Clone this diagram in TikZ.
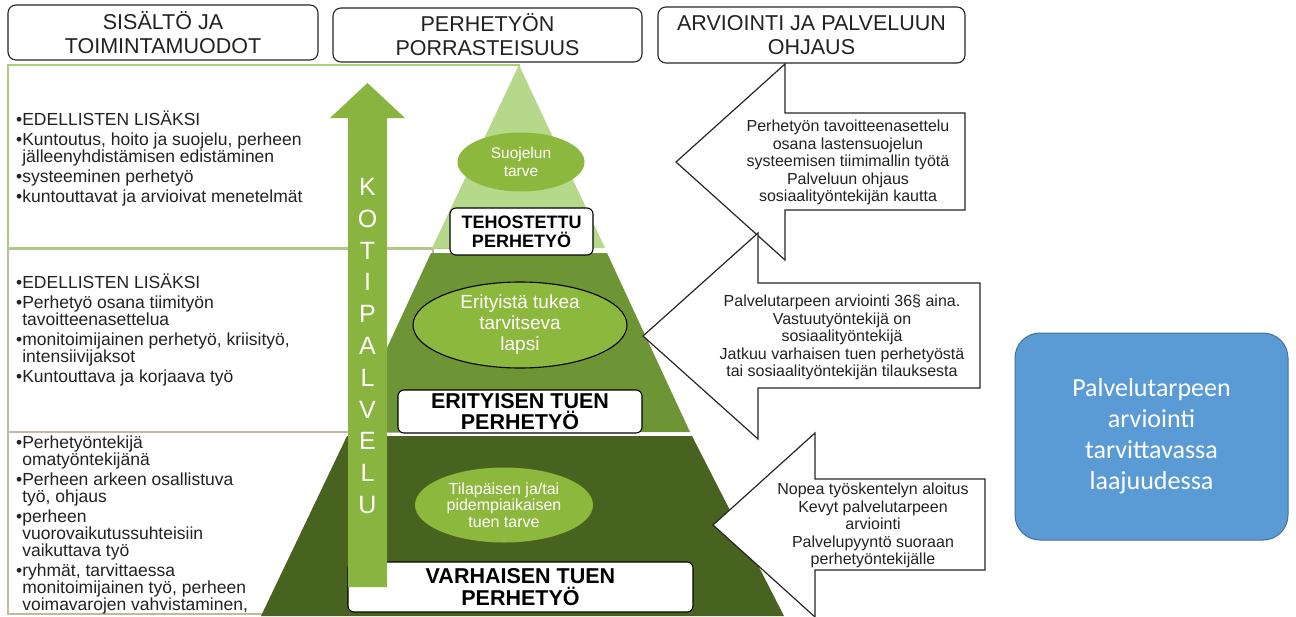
\documentclass[tikz,border=0pt]{standalone}
\usepackage{fontspec}
\setmainfont{Liberation Sans}
\newfontfamily\calfont{Carlito}
\usetikzlibrary{shapes.geometric}
\definecolor{lightg}{HTML}{B5D88A}
\definecolor{midg}{HTML}{6E9535}
\definecolor{darkg}{HTML}{48621F}
\definecolor{ellg}{HTML}{8DB83E}
\definecolor{arrg}{HTML}{8AB440}
\definecolor{rowgreen}{HTML}{A9CF7E}
\definecolor{rowtan}{HTML}{C4B89E}
\definecolor{bluefill}{HTML}{5B9BD5}
\definecolor{blueline}{HTML}{41719C}
\definecolor{txt}{HTML}{222222}
\tikzset{
  hdr/.style={draw=black!85, line width=1.1pt, rounded corners=8pt, fill=white, align=center, text=txt, font=\fontsize{21.5}{24}\selectfont, inner sep=0pt},
  lvl/.style={draw=black, line width=1.1pt, rounded corners=6pt, fill=white, align=center, text=black, inner sep=0pt},
  ell/.style={ellipse, fill=ellg, text=white, align=center, inner sep=0pt},
  blk/.style={draw=black!85, line width=1.2pt, fill=white, line join=miter},
  blktxt/.style={align=center, text=txt, inner sep=0pt, font=\fontsize{16}{17.5}\selectfont},
  rowtxt/.style={align=left, anchor=west, text=txt, inner sep=0pt, font=\fontsize{17.5}{17}\selectfont},
}
\begin{document}
\begin{tikzpicture}[x=1pt,y=-1pt]
\useasboundingbox[fill=white] (0,0) rectangle (1296,616);

% header boxes
\node[hdr, minimum width=310pt, minimum height=55pt] (h1) at (163,32.5) {SISÄLTÖ JA\\TOIMINTAMUODOT};
\node[hdr, minimum width=309pt, minimum height=54pt] (h2) at (487.5,35) {PERHETYÖN\\PORRASTEISUUS};
\node[hdr, minimum width=307pt, minimum height=56pt] (h3) at (811.5,35) {ARVIOINTI JA PALVELUUN\\OHJAUS};

% left panel rows
\draw[rowgreen, line width=1.5pt] (8,65) rectangle (519,248);
\draw[rowtan, line width=1.5pt] (8,249.5) rectangle (433,432);
\draw[rowtan, line width=1.5pt] (8,432) rectangle (350,614);

\node[rowtxt] (r1) at (16,158) {•EDELLISTEN LISÄKSI\\[3pt]
•Kuntoutus, hoito ja suojelu, perheen\\
\hphantom{•}jälleenyhdistämisen edistäminen\\[3pt]
•systeeminen perhetyö\\[3pt]
•kuntouttavat ja arvioivat menetelmät};
\node[rowtxt] (r2) at (16,330) {•EDELLISTEN LISÄKSI\\[3pt]
•Perhetyö osana tiimityön\\
\hphantom{•}tavoitteenasettelua\\[3pt]
•monitoimijainen perhetyö, kriisityö,\\
\hphantom{•}intensiivijaksot\\[3pt]
•Kuntouttava ja korjaava työ};
\node[rowtxt] (r3) at (16,525) {•Perhetyöntekijä\\
\hphantom{•}omatyöntekijänä\\[3pt]
•Perheen arkeen osallistuva\\
\hphantom{•}työ, ohjaus\\[3pt]
•perheen\\
\hphantom{•}vuorovaikutussuhteisiin\\
\hphantom{•}vaikuttava työ\\[3pt]
•ryhmät, tarvittaessa\\
\hphantom{•}monitoimijainen työ, perheen\\
\hphantom{•}voimavarojen vahvistaminen,};

% pyramid
\fill[lightg] (519,65) -- (605,248) -- (432,248) -- cycle;
\fill[midg] (431,253) -- (607,253) -- (690,432) -- (348,432) -- cycle;
\fill[darkg] (347,436) -- (692,436) -- (784,616) -- (261,616) -- cycle;

% ellipses
\node[ell, minimum width=127pt, minimum height=59pt, font=\fontsize{15.5}{18}\selectfont] (e1) at (521,162) {Suojelun\\tarve};
\node[ell, draw=black, line width=1.1pt, minimum width=214pt, minimum height=86pt, font=\fontsize{19}{21}\selectfont] (e2) at (520,325) {Erityistä tukea\\tarvitseva\\lapsi};
\node[ell, minimum width=178pt, minimum height=75pt, font=\fontsize{16}{16.5}\selectfont] (e3) at (504,505) {Tilapäisen ja/tai\\pidempiaikaisen\\tuen tarve};

% level labels
\node[lvl, minimum width=143pt, minimum height=47pt, font=\bfseries\fontsize{18}{19}\selectfont] (b1) at (521.5,231.5) {TEHOSTETTU\\PERHETYÖ};
\node[lvl, minimum width=244pt, minimum height=43pt, font=\bfseries\fontsize{21.5}{21}\selectfont] (b2) at (520,411.5) {ERITYISEN TUEN\\PERHETYÖ};
\node[lvl, minimum width=345pt, minimum height=50pt, font=\bfseries\fontsize{21.5}{22}\selectfont] (b3) at (520.5,587) {VARHAISEN TUEN\\PERHETYÖ};

% KOTIPALVELU arrow
\fill[arrg] (348,587) -- (348,118) -- (330,118) -- (367.5,83) -- (405,118) -- (387,118) -- (387,587) -- cycle;
\node[font=\fontsize{25}{31.8}\selectfont, text=white, align=center, inner sep=0pt] (kp) at (367.5,346) {K\\O\\T\\I\\P\\A\\L\\V\\E\\L\\U};

% right block arrows
\draw[blk] (965,113) -- (785,113) -- (785,64) -- (676,162) -- (785,260) -- (785,210) -- (965,210) -- cycle;
\node[blktxt] (a1) at (848,162.5) {Perhetyön tavoitteenasettelu\\osana lastensuojelun\\systeemisen tiimimallin työtä\\Palveluun ohjaus\\sosiaalityöntekijän kautta};
\draw[blk] (980,283) -- (758,283) -- (758,233) -- (643,336) -- (758,439) -- (758,388) -- (980,388) -- cycle;
\node[blktxt] (a2) at (842,337.5) {Palvelutarpeen arviointi 36§ aina.\\Vastuutyöntekijä on\\sosiaalityöntekijä\\Jatkuu varhaisen tuen perhetyöstä\\tai sosiaalityöntekijän tilauksesta};
\draw[blk] (985,479) -- (815,479) -- (815,433) -- (713,525) -- (815,617) -- (815,570) -- (985,570) -- cycle;
\node[blktxt] (a3) at (873,525.5) {Nopea työskentelyn aloitus\\Kevyt palvelutarpeen\\arviointi\\Palvelupyyntö suoraan\\perhetyöntekijälle};

% blue box
\node[draw=blueline, fill=bluefill, line width=1pt, rounded corners=25pt, minimum width=273pt, minimum height=207pt, text=white, align=center, font=\calfont\fontsize{26}{31}\selectfont] (bb) at (1151.5,436.5) {Palvelutarpeen\\arviointi\\tarvittavassa\\laajuudessa};
\end{tikzpicture}
\end{document}
